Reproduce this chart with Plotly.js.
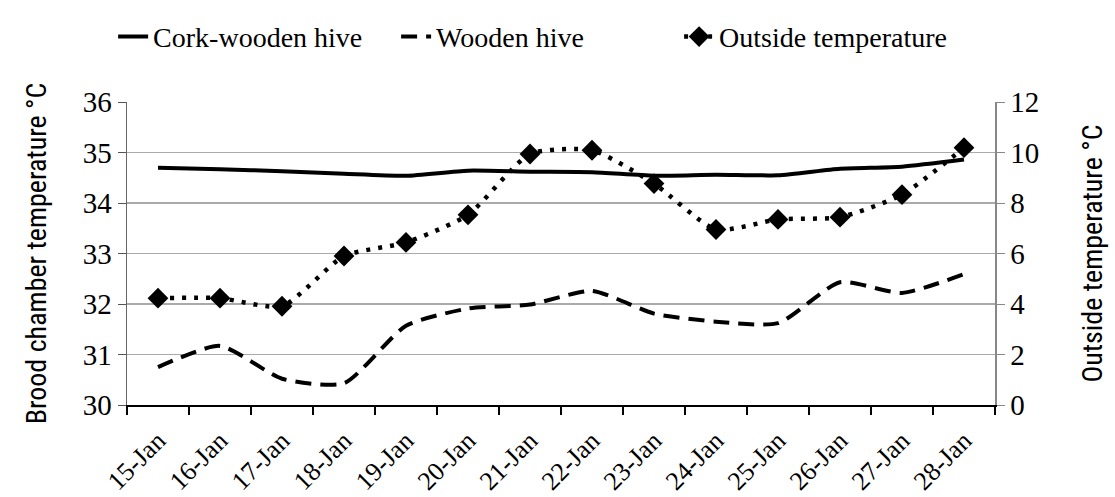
<!DOCTYPE html>
<html>
<head>
<meta charset="utf-8">
<script src="https://cdn.plot.ly/plotly-3.0.1.min.js"></script>
<style>html,body{margin:0;padding:0;background:#fff;}#chart{width:1115px;height:497px;}</style>
</head>
<body>
<div id="chart"></div>
<script>
const dates = ["15-Jan","16-Jan","17-Jan","18-Jan","19-Jan","20-Jan","21-Jan","22-Jan","23-Jan","24-Jan","25-Jan","26-Jan","27-Jan","28-Jan"];
const corkWoodenHive = [34.70,34.67,34.63,34.58,34.54,34.64,34.62,34.61,34.54,34.56,34.55,34.68,34.72,34.86];
const woodenHive = [30.75,31.17,30.52,30.43,31.57,31.91,31.99,32.26,31.81,31.65,31.62,32.43,32.22,32.59];
const outsideTemp = [4.23,4.23,3.91,5.90,6.44,7.53,9.94,10.09,8.77,6.95,7.35,7.44,8.33,10.19];
const leftTicks = [30,31,32,33,34,35,36];
const rightTicks = [0,2,4,6,8,10,12];

const serif = "Liberation Serif";
const sansCond = "Roboto Condensed";

const traces = [
  {x: dates, y: corkWoodenHive, name: "Cork-wooden hive", type: "scatter", mode: "lines",
   line: {color: "#000", width: 4, shape: "spline", smoothing: 0.6}, yaxis: "y"},
  {x: dates, y: woodenHive, name: "Wooden hive", type: "scatter", mode: "lines",
   line: {color: "#000", width: 4, dash: "16px,9px", shape: "spline", smoothing: 0.6}, yaxis: "y"},
  {x: dates, y: outsideTemp, name: "Outside temperature", type: "scatter", mode: "lines+markers",
   line: {color: "#000", width: 4.5, dash: "4px,8px", shape: "spline", smoothing: 0.6},
   marker: {symbol: "diamond", size: 16, color: "#000"}, yaxis: "y2"}
];

const layout = {
  width: 1115, height: 497,
  margin: {l: 127, r: 120, t: 81, b: 92},
  paper_bgcolor: "#fff", plot_bgcolor: "#fff",
  showlegend: true,
  legend: {orientation: "h", x: -0.016, xanchor: "left", y: 1.215, yanchor: "middle",
           font: {family: serif, size: 28, color: "#000"}, entrywidth: 238, entrywidthmode: "pixels",
           tracegroupgap: 0},
  xaxis: {type: "category", tickson: "boundaries", ticks: "outside", ticklen: 8, tickcolor: "#000",
          tickwidth: 1.5, showline: true, linecolor: "#000", linewidth: 2, showgrid: false,
          ticklabelstandoff: 8,
          tickangle: -45, tickfont: {family: serif, size: 26, color: "#000"}, range: [-0.5, 13.5]},
  yaxis: {range: [30, 36], tickvals: leftTicks, ticks: "outside", ticklen: 8, tickcolor: "#555",
          showline: true, linecolor: "#666", linewidth: 1.5, showgrid: true, gridcolor: "#aaa", gridwidth: 1.2,
          zeroline: false, tickfont: {family: serif, size: 29, color: "#000"},
          title: {text: "Brood chamber temperature °C", font: {family: sansCond, size: 28, color: "#000"}, standoff: 28}},
  yaxis2: {range: [0, 12], tickvals: rightTicks, overlaying: "y", side: "right", ticks: "outside", ticklen: 8,
           tickcolor: "#888", showline: true, linecolor: "#888", linewidth: 1.5, showgrid: false, zeroline: false,
           tickfont: {family: serif, size: 29, color: "#000"},
           title: {text: "Outside temperature °C", font: {family: sansCond, size: 28, color: "#000"}, standoff: 44}}
};

Plotly.newPlot("chart", traces, layout, {displayModeBar: false, staticPlot: true});
</script>
</body>
</html>
